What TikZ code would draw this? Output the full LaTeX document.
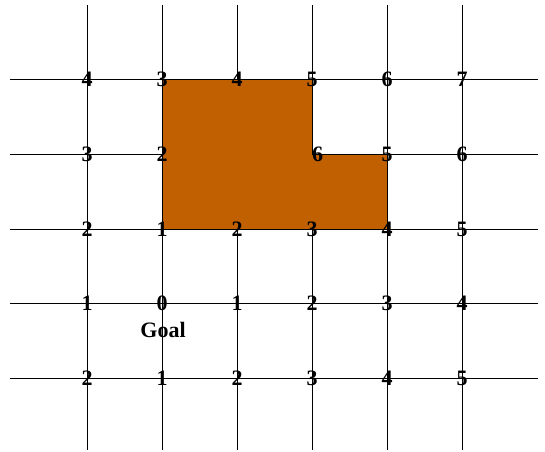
\documentclass[tikz,border=0pt]{standalone}
\usepackage{fontspec}
\setmainfont{Liberation Serif}
\definecolor{obst}{RGB}{192,96,0}
\begin{document}
\begin{tikzpicture}[x=1pt,y=-1pt,
  gridline/.style={draw=black,line width=0.8pt},
  val/.style={font=\fontsize{22}{22}\selectfont\bfseries,inner sep=0pt,anchor=base,yshift=-7.5pt},
  obstacle/.style={fill=obst,draw=black,line width=0.8pt}]
\useasboundingbox (0,0) rectangle (545,451);
% grid
\foreach \x in {87,162,237,312,387,462} \draw[gridline] (\x,5) -- (\x,450);
\foreach \y in {79,154,229,303,378} \draw[gridline] (10,\y) -- (538,\y);
% obstacle
\draw[obstacle] (162,79) -- (312,79) -- (312,154) -- (387,154) -- (387,229) -- (162,229) -- cycle;
% values
\foreach \v [count=\i] in {4,3,4,5,6,7}
  \node[val] (a\i) at ({12+75*\i},79) {\v};
\node[val] (b1) at (87,154) {3};
\node[val] (b2) at (162,154) {2};
\node[val] (b4) at (317.5,154) {6};
\node[val] (b5) at (387,154) {5};
\node[val] (b6) at (462,154) {6};
\foreach \v [count=\i] in {2,1,2,3,4,5}
  \node[val] (c\i) at ({12+75*\i},229) {\v};
\foreach \v [count=\i] in {1,0,1,2,3,4}
  \node[val] (d\i) at ({12+75*\i},303) {\v};
\foreach \v [count=\i] in {2,1,2,3,4,5}
  \node[val] (e\i) at ({12+75*\i},378) {\v};
\node[font=\fontsize{22}{22}\selectfont\bfseries,inner sep=0pt,anchor=base] (goal) at (163,337) {Goal};
\end{tikzpicture}
\end{document}
